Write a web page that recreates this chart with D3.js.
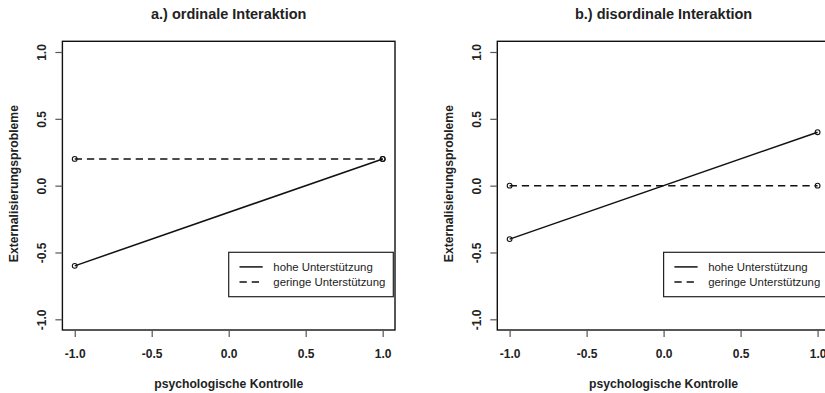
<!DOCTYPE html>
<html><head><meta charset="utf-8">
<script src="https://cdn.jsdelivr.net/npm/d3@7"></script>
<style>body{margin:0;background:#fff}svg{display:block}text{font-family:"Liberation Sans",Arial,sans-serif;fill:#222}</style>
</head><body>
<svg id="c" width="825" height="393"></svg>
<script>
const xValues = [-1, 1];
const titles = ["a.) ordinale Interaktion", "b.) disordinale Interaktion"];
const seriesNames = ["hohe Unterstützung", "geringe Unterstützung"];
const hoheA = [-0.6, 0.2];
const geringeA = [0.2, 0.2];
const hoheB = [-0.4, 0.4];
const geringeB = [0.0, 0.0];
const tickValues = [-1.0, -0.5, 0.0, 0.5, 1.0];
const xLabel = "psychologische Kontrolle";
const yLabel = "Externalisierungsprobleme";

const svg = d3.select("#c");
const panels = [
  {left: 62.4, title: titles[0], series: [hoheA, geringeA]},
  {left: 497.3, title: titles[1], series: [hoheB, geringeB]}
];
const W = 332.6, plotTop = 41.3, plotBottom = 330;
const fmt = d => d3.format(".1f")(d).replace("−", "-");

panels.forEach(p => {
  const g = svg.append("g");
  const x = d3.scaleLinear().domain([-1.08, 1.08]).range([p.left, p.left + W]);
  const y = d3.scaleLinear().domain([-1.08, 1.08]).range([plotBottom, plotTop]);
  const cx = (x(-1) + x(1)) / 2;
  g.append("text").attr("x", cx).attr("y", 18.5).attr("text-anchor", "middle")
    .style("font-weight", "bold").style("font-size", "14.5px").text(p.title);
  // box
  g.append("rect").attr("x", x.range()[0]).attr("y", plotTop).attr("width", W).attr("height", plotBottom - plotTop)
    .attr("fill", "none").attr("stroke", "#111").attr("stroke-width", 1.4);
  // x axis
  const xa = g.append("g").attr("transform", `translate(0,${plotBottom})`)
    .call(d3.axisBottom(x).tickValues(tickValues).tickSize(7).tickPadding(12).tickFormat(fmt));
  xa.select(".domain").remove();
  xa.selectAll("line").attr("stroke", "#555").attr("stroke-width", 1.2);
  xa.selectAll("text").style("font-weight", "bold").style("font-size", "12px").attr("fill", "#222");
  // y axis
  const ya = g.append("g").attr("transform", `translate(${x.range()[0]},0)`)
    .call(d3.axisLeft(y).tickValues(tickValues).tickSize(7).tickFormat(fmt));
  ya.select(".domain").remove();
  ya.selectAll("line").attr("stroke", "#555").attr("stroke-width", 1.2);
  ya.selectAll("text").remove();
  ya.selectAll(".tick").append("text")
    .attr("transform", "translate(-20.5,0) rotate(-90)")
    .attr("text-anchor", "middle").attr("dy", "0.35em").attr("x", 0).attr("y", 0)
    .style("font-weight", "bold").style("font-size", "12px").attr("fill", "#222")
    .text(fmt);
  // axis titles
  g.append("text").attr("x", cx).attr("y", 387.5).attr("text-anchor", "middle")
    .style("font-weight", "bold").style("font-size", "12.2px").text(xLabel);
  g.append("text").attr("transform", `translate(${x.range()[0] - 49},${(plotTop + plotBottom) / 2 - 2}) rotate(-90)`)
    .attr("text-anchor", "middle").attr("dy", "0.35em")
    .style("font-weight", "bold").style("font-size", "12.2px").text(yLabel);
  // series
  const dashes = [null, "7.3,4.9"];
  p.series.forEach((vals, i) => {
    const pts = xValues.map((xv, k) => [x(xv), y(vals[k])]);
    g.append("path").attr("d", d3.line()(pts)).attr("fill", "none")
      .attr("stroke", "#111").attr("stroke-width", 1.5).attr("stroke-dasharray", dashes[i]);
    g.selectAll(null).data(pts).enter().append("circle")
      .attr("cx", d => d[0]).attr("cy", d => d[1]).attr("r", 2.4)
      .attr("fill", "none").attr("stroke", "#111").attr("stroke-width", 1.1);
  });
  // legend
  const lx = x(0), ly = 252.3;
  const lg = g.append("g");
  lg.append("rect").attr("x", lx).attr("y", ly).attr("width", 164.6).attr("height", 44.4)
    .attr("fill", "#fff").attr("stroke", "#222").attr("stroke-width", 1.2);
  seriesNames.forEach((s, i) => {
    const yy = ly + 14.6 + i * 15;
    lg.append("line").attr("x1", lx + 10.8).attr("x2", lx + 34).attr("y1", yy).attr("y2", yy)
      .attr("stroke", "#111").attr("stroke-width", 1.5).attr("stroke-dasharray", dashes[i]);
    lg.append("text").attr("x", lx + 44.6).attr("y", yy).attr("dy", "0.35em")
      .style("font-size", "11.4px").text(s);
  });
});
</script>
</body></html>
